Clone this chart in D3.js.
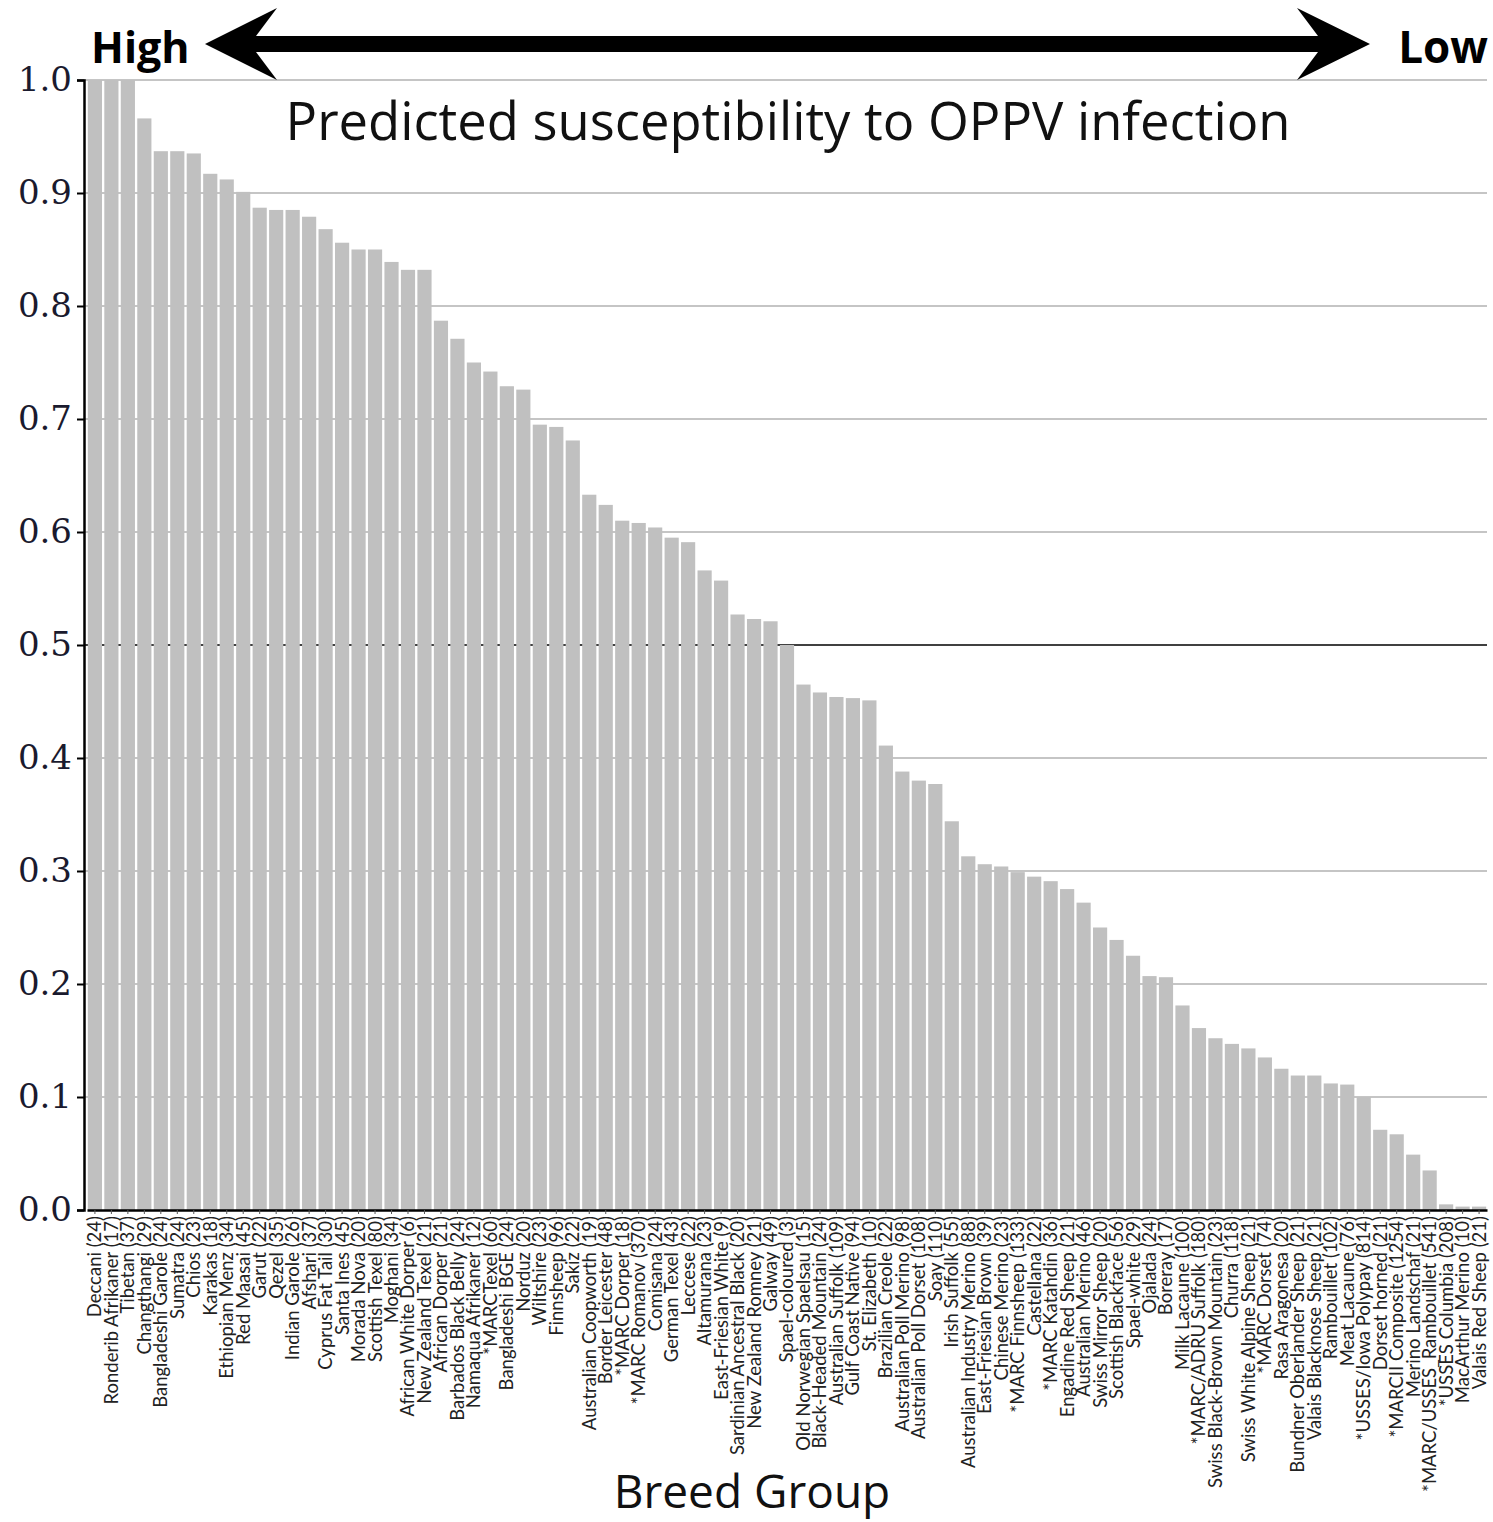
<!DOCTYPE html>
<html>
<head>
<meta charset="utf-8">
<script src="https://cdn.jsdelivr.net/npm/d3@7"></script>
<style>
  body { margin: 0; background: #fff; }
</style>
</head>
<body>
<div id="chart"></div>
<script>
// breed groups, in plotted order (highest to lowest)
const breeds = [
  "Deccani", "Ronderib Afrikaner", "Tibetan", "Changthangi", "Bangladeshi Garole",
  "Sumatra", "Chios", "Karakas", "Ethiopian Menz", "Red Maasai",
  "Garut", "Qezel", "Indian Garole", "Afshari", "Cyprus Fat Tail",
  "Santa Ines", "Morada Nova", "Scottish Texel", "Moghani", "African White Dorper",
  "New Zealand Texel", "African Dorper", "Barbados Black Belly", "Namaqua Afrikaner", "*MARCTexel",
  "Bangladeshi BGE", "Norduz", "Wiltshire", "Finnsheep", "Sakiz",
  "Australian Coopworth", "Border Leicester", "*MARC Dorper", "*MARC Romanov", "Comisana",
  "German Texel", "Leccese", "Altamurana", "East-Friesian White", "Sardinian Ancestral Black",
  "New Zealand Romney", "Galway", "Spael-coloured", "Old Norwegian Spaelsau", "Black-Headed Mountain",
  "Australian Suffolk", "Gulf Coast Native", "St. Elizabeth", "Brazilian Creole", "Australian Poll Merino",
  "Australian Poll Dorset", "Soay", "Irish Suffolk", "Australian Industry Merino", "East-Friesian Brown",
  "Chinese Merino", "*MARC Finnsheep", "Castellana", "*MARC Katahdin", "Engadine Red Sheep",
  "Australian Merino", "Swiss Mirror Sheep", "Scottish Blackface", "Spael-white", "Ojalada",
  "Boreray", "Milk Lacaune", "*MARC/ADRU Suffolk", "Swiss Black-Brown Mountain", "Churra",
  "Swiss White Alpine Sheep", "*MARC Dorset", "Rasa Aragonesa", "Bundner Oberlander Sheep", "Valais Blacknose Sheep",
  "Rambouillet", "Meat Lacaune", "*USSES/Iowa Polypay", "Dorset horned", "*MARCII Composite",
  "Merino Landschaf", "*MARC/USSES_Rambouillet", "*USSES Columbia", "MacArthur Merino", "Valais Red Sheep"
];

// number of animals per breed group
const sampleSizes = [
  24, 17, 37, 29, 24, 24, 23, 18, 34, 45,
  22, 35, 26, 37, 30, 45, 20, 80, 34, 6,
  21, 21, 24, 12, 60, 24, 20, 23, 96, 22,
  19, 48, 18, 370, 24, 43, 22, 23, 9, 20,
  21, 49, 3, 15, 24, 109, 94, 10, 22, 98,
  108, 110, 55, 88, 39, 23, 133, 22, 36, 21,
  46, 20, 56, 29, 24, 17, 100, 180, 23, 118,
  21, 74, 20, 21, 21, 102, 76, 814, 21, 1254,
  21, 541, 208, 10, 21
];

// predicted susceptibility
const susceptibility = [
  1.000, 1.000, 1.000, 0.966, 0.937, 0.937, 0.935, 0.917, 0.912, 0.901,
  0.887, 0.885, 0.885, 0.879, 0.868, 0.856, 0.850, 0.850, 0.839, 0.832,
  0.832, 0.787, 0.771, 0.750, 0.742, 0.729, 0.726, 0.695, 0.693, 0.681,
  0.633, 0.624, 0.610, 0.608, 0.604, 0.595, 0.591, 0.566, 0.557, 0.527,
  0.523, 0.521, 0.500, 0.465, 0.458, 0.454, 0.453, 0.451, 0.411, 0.388,
  0.380, 0.377, 0.344, 0.313, 0.306, 0.304, 0.299, 0.295, 0.291, 0.284,
  0.272, 0.250, 0.239, 0.225, 0.207, 0.206, 0.181, 0.161, 0.152, 0.147,
  0.143, 0.135, 0.125, 0.119, 0.119, 0.112, 0.111, 0.100, 0.071, 0.067,
  0.049, 0.035, 0.005, 0.003, 0.003
];

const yTicks = [0.0, 0.1, 0.2, 0.3, 0.4, 0.5, 0.6, 0.7, 0.8, 0.9, 1.0];

const width = 1493;
const height = 1522;
const plot = { left: 84, right: 1487, top: 80, bottom: 1210 };

const data = breeds.map((b, i) => ({
  label: `${b} (${sampleSizes[i]})`,
  value: susceptibility[i]
}));

const svg = d3.select("#chart")
  .append("svg")
  .attr("width", width)
  .attr("height", height);

const x = d3.scaleBand()
  .domain(data.map(d => d.label))
  .range([plot.left + 3, plot.right])
  .paddingInner(0.14)
  .paddingOuter(0.05);

const y = d3.scaleLinear()
  .domain([0, 1])
  .range([plot.bottom, plot.top]);

// gridlines hinter den Balken
svg.append("g")
  .selectAll("line")
  .data(yTicks.filter(t => t > 0))
  .enter()
  .append("line")
  .attr("x1", plot.left)
  .attr("x2", plot.right)
  .attr("y1", d => y(d))
  .attr("y2", d => y(d))
  .attr("stroke", d => Math.abs(d - 0.5) < 1e-9 ? "#000" : "#8c8c8c")
  .attr("stroke-width", d => Math.abs(d - 0.5) < 1e-9 ? 1.5 : 1.2);

// bars
svg.append("g")
  .selectAll("rect")
  .data(data)
  .enter()
  .append("rect")
  .attr("x", d => x(d.label))
  .attr("y", d => y(d.value))
  .attr("width", x.bandwidth())
  .attr("height", d => y(0) - y(d.value))
  .attr("fill", "#c0c0c0");

// y axis
const yAxis = svg.append("g")
  .attr("transform", `translate(${plot.left},0)`)
  .call(d3.axisLeft(y).tickValues(yTicks).tickFormat(d3.format(".1f")).tickSize(7).tickPadding(5));
yAxis.select(".domain").attr("stroke", "#000").attr("stroke-width", 2.5);
yAxis.selectAll(".tick line").attr("stroke", "#000").attr("stroke-width", 2);
yAxis.selectAll(".tick text")
  .attr("font-family", "'DejaVu Serif', serif")
  .attr("font-size", 34)
  .attr("fill", "#1a1a2e");

// x axis
const xAxis = svg.append("g")
  .attr("transform", `translate(0,${plot.bottom})`)
  .call(d3.axisBottom(x).tickSize(4).tickPadding(3).tickSizeOuter(0));
xAxis.select(".domain").attr("stroke", "#000").attr("stroke-width", 2.5);
xAxis.selectAll(".tick line").attr("stroke", "#555");
xAxis.selectAll(".tick text")
  .attr("font-family", "Lato, sans-serif")
  .attr("font-size", 18.5)
  .attr("fill", "#222")
  .attr("transform", "rotate(-90)")
  .attr("text-anchor", "end")
  .attr("dy", "0.35em")
  .attr("x", -6)
  .attr("y", 0);

// title inside plot
svg.append("text")
  .attr("x", 788)
  .attr("y", 140)
  .attr("text-anchor", "middle")
  .attr("font-family", "'Open Sans', sans-serif")
  .attr("font-size", 52.5)
  .attr("fill", "#111")
  .text("Predicted susceptibility to OPPV infection");

// x axis title
svg.append("text")
  .attr("x", 752)
  .attr("y", 1508)
  .attr("text-anchor", "middle")
  .attr("font-family", "'Open Sans', sans-serif")
  .attr("font-size", 46)
  .attr("fill", "#111")
  .text("Breed Group");

// High / Low labels
svg.append("text")
  .attr("x", 91)
  .attr("y", 63)
  .attr("font-family", "'Open Sans', sans-serif")
  .attr("font-weight", "bold")
  .attr("font-size", 43)
  .attr("fill", "#000")
  .text("High");

svg.append("text")
  .attr("x", 1488)
  .attr("y", 63)
  .attr("text-anchor", "end")
  .attr("font-family", "'Open Sans', sans-serif")
  .attr("font-weight", "bold")
  .attr("font-size", 44)
  .attr("fill", "#000")
  .text("Low");

// double-headed arrow
const ay = 44;
const arrow = d3.path();
arrow.moveTo(205, ay);
arrow.lineTo(277, 8);
arrow.lineTo(256, ay - 8);
arrow.lineTo(1318, ay - 8);
arrow.lineTo(1297, 8);
arrow.lineTo(1370, ay);
arrow.lineTo(1297, 80);
arrow.lineTo(1318, ay + 8);
arrow.lineTo(256, ay + 8);
arrow.lineTo(277, 80);
arrow.closePath();
svg.append("path")
  .attr("d", arrow.toString())
  .attr("fill", "#000");
</script>
</body>
</html>
